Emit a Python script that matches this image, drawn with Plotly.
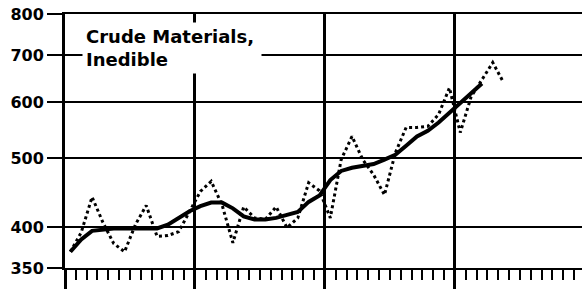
import plotly.graph_objects as go

# Monthly index (mid-month positions) and values
month_index = list(range(41))
monthly_values = [369, 393, 441, 406, 379, 369, 403, 429, 388, 389, 394, 420,
                  449, 464, 430, 380, 427, 412, 410, 427, 399, 412, 462, 450,
                  412, 498, 537, 498, 474, 444, 509, 553, 553, 555, 577, 629,
                  544, 611, 646, 683, 640]
smoothed_index = list(range(39))
smoothed_values = [369, 384, 395, 397, 398, 398, 398, 398, 398, 403, 412, 421,
                   428, 433, 433, 425, 414, 410, 410, 412, 416, 420, 434, 443,
                   466, 480, 485, 488, 491, 498, 506, 521, 537, 547, 562, 580,
                   598, 617, 638]
y_ticks = [350, 400, 500, 600, 700, 800]
year_marks = [0, 12, 24, 36]
title_text = "Crude Materials,<br>Inedible"

x_monthly = [m + 0.5 for m in month_index]
x_smoothed = [m + 0.5 for m in smoothed_index]

fig = go.Figure()
fig.add_trace(go.Scatter(x=x_monthly, y=monthly_values, mode="lines",
                         line=dict(color="black", width=3, dash="dot"),
                         hoverinfo="skip", showlegend=False))
fig.add_trace(go.Scatter(x=x_smoothed, y=smoothed_values, mode="lines",
                         line=dict(color="black", width=4),
                         hoverinfo="skip", showlegend=False))

fig.update_layout(
    template="none",
    width=582, height=289,
    margin=dict(l=65, r=0, t=14, b=21, pad=0),
    paper_bgcolor="white", plot_bgcolor="white",
    showlegend=False,
    xaxis=dict(
        automargin=False,
        range=[0, 47.74],
        tickvals=year_marks, ticktext=["" for _ in year_marks],
        ticks="outside", ticklen=21, tickwidth=3, tickcolor="black",
        showgrid=True, gridcolor="black", gridwidth=3,
        showline=True, linecolor="black", linewidth=2, mirror=True,
        zeroline=False,
        minor=dict(dtick=1, tick0=0, ticks="outside", ticklen=10,
                   tickwidth=2, tickcolor="black", showgrid=False),
    ),
    yaxis=dict(
        automargin=False,
        type="log",
        range=[2.544068, 2.90309],
        tickvals=y_ticks, ticktext=[str(v) for v in y_ticks],
        ticks="outside", ticklen=15, tickwidth=2, tickcolor="black",
        showgrid=True, gridcolor="black", gridwidth=2,
        showline=True, linecolor="black", linewidth=3,
        zeroline=False,
        tickfont=dict(family="DejaVu Sans", size=16, color="black", weight="bold"),
    ),
)

fig.add_annotation(
    text=title_text, xref="paper", yref="paper",
    x=(82 - 65) / 517, y=1 - (22 - 14) / 254,
    xanchor="left", yanchor="top", align="left", showarrow=False,
    width=172,
    bgcolor="white", borderpad=3,
    font=dict(family="DejaVu Sans", size=18, color="black", weight="bold"),
)

fig.write_html(
    "out.html",
    config={"displayModeBar": False},
    post_script="document.body.style.margin='0';document.body.style.overflow='hidden';",
)
